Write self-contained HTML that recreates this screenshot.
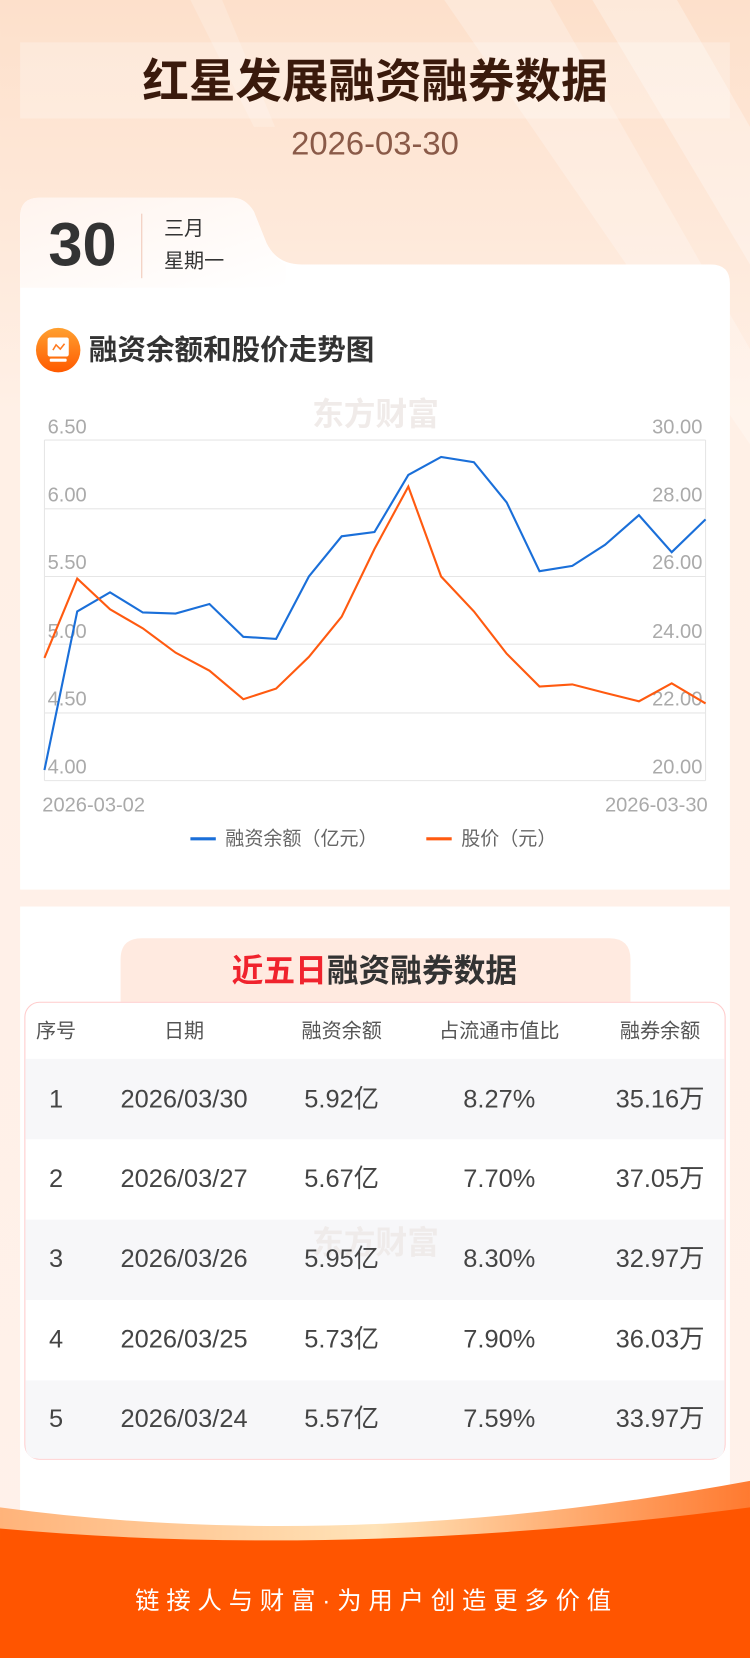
<!DOCTYPE html>
<html><head><meta charset="utf-8"><style>
html,body{margin:0;padding:0;width:750px;height:1658px;overflow:hidden;background:#fff3ec}
svg{display:block}
text{font-family:"Liberation Sans","Noto Sans CJK SC",sans-serif}
</style></head><body>
<svg width="750" height="1658" viewBox="0 0 709 1567.4" xmlns="http://www.w3.org/2000/svg">
<defs>
<linearGradient id="bg" x1="0" y1="0" x2="0" y2="1">
<stop offset="0" stop-color="#fde0cb"/><stop offset="0.25" stop-color="#fff0e6"/><stop offset="1" stop-color="#fff1ea"/>
</linearGradient>
<linearGradient id="tab" x1="0" y1="0" x2="1" y2="1">
<stop offset="0" stop-color="#fff4ee"/><stop offset="1" stop-color="#ffffff"/>
</linearGradient>
<linearGradient id="icon" x1="0" y1="0" x2="0" y2="1">
<stop offset="0" stop-color="#ffa030"/><stop offset="1" stop-color="#ff5a00"/>
</linearGradient>
<linearGradient id="wave" x1="0" y1="0" x2="1" y2="0">
<stop offset="0" stop-color="#ffb37a"/><stop offset="0.5" stop-color="#ffe3b8"/><stop offset="1" stop-color="#ff7a30"/>
</linearGradient>
</defs>
<rect width="709" height="1568" fill="url(#bg)"/>
<path d="M420 0 L520 0 L709 330 L709 420 Z" fill="#ffffff" opacity="0.25"/>
<path d="M560 0 L640 0 L709 120 L709 250 Z" fill="#ffffff" opacity="0.3"/>
<path d="M180 0 L210 0 L260 120 L240 120 Z" fill="#ffffff" opacity="0.2"/>
<rect x="19" y="40" width="671" height="72" fill="#ffffff" opacity="0.25"/>
<text x="354.5" y="92" text-anchor="middle" font-size="44" font-weight="bold" fill="#3a1a0c">红星发展融资融券数据</text>
<text x="354.5" y="146" text-anchor="middle" font-size="31" fill="#8a5a48">2026-03-30</text>

<!-- card 1 -->
<path d="M19 205 Q19 187 37 187 L220 187 Q232 187 240 200 L252 230 Q262 250 285 250 L672 250 Q690 250 690 268 L690 841 L19 841 Z" fill="#ffffff"/>
<path d="M19 205 Q19 187 37 187 L220 187 Q232 187 240 200 L252 230 Q260 245 270 250 L270 272 L19 272 Z" fill="url(#tab)"/>
<text x="78" y="251" text-anchor="middle" font-size="58" font-weight="bold" fill="#333">30</text>
<line x1="134" y1="202" x2="134" y2="263" stroke="#f0c8b8" stroke-width="1"/>
<text x="155" y="222" font-size="19" fill="#333">三月</text>
<text x="155" y="253" font-size="19" fill="#333">星期一</text>

<circle cx="55" cy="331" r="21" fill="url(#icon)"/>
<rect x="45" y="319" width="20" height="18" rx="2" fill="#fff"/>
<rect x="47" y="339" width="16" height="3" rx="1" fill="#fff"/>
<path d="M50 331 L53 326 L57 330 L61 325" stroke="#ff7a20" stroke-width="1.5" fill="none"/>
<text x="84" y="340" font-size="27" font-weight="bold" fill="#333">融资余额和股价走势图</text>

<text x="355" y="402" text-anchor="middle" font-size="30" font-weight="bold" fill="#f0ebe9">东方财富</text>

<!-- chart -->
<g stroke="#e6e6e6" stroke-width="1">
<line x1="42" y1="416" x2="667" y2="416"/><line x1="42" y1="481" x2="667" y2="481"/>
<line x1="42" y1="545" x2="667" y2="545"/><line x1="42" y1="609" x2="667" y2="609"/>
<line x1="42" y1="674" x2="667" y2="674"/><line x1="42" y1="738" x2="667" y2="738"/>
<line x1="42" y1="416" x2="42" y2="738"/><line x1="667" y1="416" x2="667" y2="738"/>
</g>
<g font-size="19" fill="#aaaaaa">
<text x="45" y="410">6.50</text><text x="45" y="474">6.00</text><text x="45" y="538">5.50</text>
<text x="45" y="603">5.00</text><text x="45" y="667">4.50</text><text x="45" y="731">4.00</text>
</g>
<g font-size="19" fill="#aaaaaa" text-anchor="end">
<text x="664" y="410">30.00</text><text x="664" y="474">28.00</text><text x="664" y="538">26.00</text>
<text x="664" y="603">24.00</text><text x="664" y="667">22.00</text><text x="664" y="731">20.00</text>
</g>
<text x="40" y="767" font-size="19" fill="#aaaaaa">2026-03-02</text>
<text x="669" y="767" text-anchor="end" font-size="19" fill="#aaaaaa">2026-03-30</text>
<polyline fill="none" stroke="#1a6fd9" stroke-width="2" points="42,728 73,578 104,560 135,579 166,580 198,571 230,602 261,604 292,545 323,507 354,503 386,449 417,432 448,437 479,475 510,540 541,535 572,515 604,487 635,522 667,491"/>
<polyline fill="none" stroke="#ff5a10" stroke-width="2" points="42,622 73,547 104,576 135,594 166,617 198,634 230,661 261,651 292,621 323,583 354,519 386,460 417,545 448,578 479,618 510,649 541,647 572,655 604,663 635,646 667,665"/>
<line x1="180" y1="793" x2="204" y2="793" stroke="#1a6fd9" stroke-width="3"/>
<text x="213" y="799" font-size="18" fill="#666">融资余额（亿元）</text>
<line x1="403" y1="793" x2="427" y2="793" stroke="#ff5a10" stroke-width="3"/>
<text x="436" y="799" font-size="18" fill="#666">股价（元）</text>

<!-- card 2 -->
<rect x="19" y="857" width="671" height="620" fill="#ffffff"/>
<path d="M114 947 L114 907 Q114 887 134 887 L576 887 Q596 887 596 907 L596 947 Z" fill="#ffeae0"/>
<text x="219" y="928" font-size="30" font-weight="bold" fill="#f0232d">近五日<tspan fill="#333">融资融券数据</tspan></text>
<rect x="23.5" y="947.5" width="662" height="432" rx="14" fill="#fff" stroke="#ffcccc"/>
<rect x="24" y="1001" width="661" height="76" fill="#f7f7f9"/>
<rect x="24" y="1153" width="661" height="76" fill="#f7f7f9"/>
<path d="M24 1305 L685 1305 L685 1366 Q685 1379 672 1379 L37 1379 Q24 1379 24 1366 Z" fill="#f7f7f9"/>
<text x="355" y="1185" text-anchor="middle" font-size="30" font-weight="bold" fill="#efebea">东方财富</text>
<g font-size="19" fill="#555" text-anchor="middle">
<text x="53" y="981">序号</text><text x="174" y="981">日期</text><text x="323" y="981">融资余额</text>
<text x="472" y="981">占流通市值比</text><text x="624" y="981">融券余额</text>
</g>
<g font-size="24" fill="#444" text-anchor="middle">
<text x="53" y="1047">1</text><text x="174" y="1047">2026/03/30</text><text x="323" y="1047">5.92亿</text><text x="472" y="1047">8.27%</text><text x="666" y="1047" text-anchor="end">35.16万</text>
<text x="53" y="1122">2</text><text x="174" y="1122">2026/03/27</text><text x="323" y="1122">5.67亿</text><text x="472" y="1122">7.70%</text><text x="666" y="1122" text-anchor="end">37.05万</text>
<text x="53" y="1198">3</text><text x="174" y="1198">2026/03/26</text><text x="323" y="1198">5.95亿</text><text x="472" y="1198">8.30%</text><text x="666" y="1198" text-anchor="end">32.97万</text>
<text x="53" y="1274">4</text><text x="174" y="1274">2026/03/25</text><text x="323" y="1274">5.73亿</text><text x="472" y="1274">7.90%</text><text x="666" y="1274" text-anchor="end">36.03万</text>
<text x="53" y="1349">5</text><text x="174" y="1349">2026/03/24</text><text x="323" y="1349">5.57亿</text><text x="472" y="1349">7.59%</text><text x="666" y="1349" text-anchor="end">33.97万</text>
</g>

<!-- footer wave -->
<path d="M0 1425 Q330 1470 709 1400 L709 1568 L0 1568 Z" fill="url(#wave)"/>
<path d="M0 1445 Q330 1475 709 1425 L709 1568 L0 1568 Z" fill="#ff5500"/>
<text x="356" y="1521" text-anchor="middle" font-size="23" fill="#fff" letter-spacing="6.5">链接人与财富·为用户创造更多价值</text>
</svg>
</body></html>
